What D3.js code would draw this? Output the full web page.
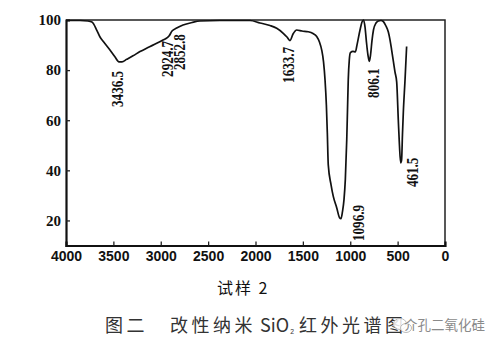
<!DOCTYPE html>
<html><head><meta charset="utf-8">
<script src="https://cdn.jsdelivr.net/npm/d3@7"></script>
<style>body{margin:0;background:#fff}svg{display:block}</style>
</head><body>
<svg id="c" width="499" height="350"></svg>
<script>
// ---- data ----
const wavenumbers = [4000,3852,3768,3726,3676,3641,3606,3536,3484,3441,3409,3360,3293,3219,3135,3043,2976,2937,2913,2881,2832,2765,2670,2586,2375,2058,1953,1847,1776,1707,1668,1636,1604,1565,1509,1443,1393,1354,1325,1301,1282,1266,1252,1242,1232,1203,1179,1143,1113,1098,1082,1066,1052,1037,1029,1021,1010,998,971,945,929,897,876,860,844,829,813,799,786,770,755,728,704,676,651,623,598,580,563,544,528,510,493,481,468,458,449,440,422,405];
const transmittance = [99.8,99.8,99.6,99.2,96,93.2,91.4,88,85.3,83.3,83.3,84.3,85.7,87.4,89,90.7,92,92.8,93.6,95.6,96.8,98,99,99.6,99.8,99.8,98.8,97.8,96.7,94.7,93.2,91.8,94.4,96,95.6,95.3,94.6,93.4,91.2,88,83.3,76,66.1,55,42.2,34.3,29.6,25.1,21.1,20.7,23.5,28.3,36.3,52.2,64.1,76.1,84.1,87,87.5,87.3,90,96,99.2,100,97.2,91.2,86,83.5,86,92,96,98.8,99.6,99.8,99.4,97.6,95.2,92,88,83.3,79.3,75.3,60.2,50.2,43,44.2,54.2,63,76,89.4];
const xTickValues = [4000,3500,3000,2500,2000,1500,1000,500,0];
const yTickValues = [20,40,60,80,100];
const peakLabels = ["3436.5","2924.7","2852.8","1633.7","1096.9","806.1","461.5"];
const xTitle = "试样 2";
const captionParts = ["图二","改性纳米","SiO","₂","红外光谱图"];
const watermark = "介孔二氧化硅";

// ---- layout (separate from data) ----
const labelLayout = { // px offset from peak x, bottom end in transmittance units
  "3436.5": {dx:-1.5, v:65.3},
  "2924.7": {dx:0, v:77.3},
  "2852.8": {dx:5.3, v:80},
  "1633.7": {dx:-2, v:74.9},
  "1096.9": {dx:18, v:11.8},
  "806.1": {dx:5.4, v:68.9},
  "461.5": {dx:11.7, v:33.3}
};

const svg = d3.select("#c");
const x = d3.scaleLinear().domain([4000,0]).range([66,445]);
const y = d3.scaleLinear().domain([10,100]).range([245.5,20]);

// frame top & right
svg.append("path")
  .attr("d", `M${x(4000)},${y(100)}H${x(0)}V${y(10)}`)
  .attr("fill","none").attr("stroke","#222").attr("stroke-width",1.5);

// x axis
const gx = svg.append("g").attr("transform",`translate(0,${y(10)})`)
  .call(d3.axisBottom(x).tickValues(xTickValues).tickSize(-4).tickPadding(6).tickFormat(d3.format("d")));
gx.select(".domain").attr("stroke","#111").attr("stroke-width",2.2);
gx.selectAll(".tick line").attr("stroke","#222").attr("stroke-width",1.3)
  .filter(d => d===4000 || d===0).remove();
gx.selectAll(".tick text").attr("font-family","'Liberation Sans', Arial, sans-serif")
  .attr("font-weight","bold").attr("font-size",14).attr("fill","#111");

// y axis
const gy = svg.append("g").attr("transform",`translate(${x(4000)},0)`)
  .call(d3.axisLeft(y).tickValues(yTickValues).tickSize(-4).tickPadding(5));
gy.select(".domain").attr("stroke","#111").attr("stroke-width",2.2);
gy.selectAll(".tick line").attr("stroke","#222").attr("stroke-width",1.3)
  .filter(d => d===100).remove();
gy.selectAll(".tick text").attr("font-family","'Liberation Serif', 'Times New Roman', serif")
  .attr("font-weight","bold").attr("font-size",15).attr("fill","#111");

// spectrum
const pts = wavenumbers.map((w,i)=>[w,transmittance[i]]);
svg.append("path").datum(pts)
  .attr("d", d3.line().x(d=>x(d[0])).y(d=>y(d[1])).curve(d3.curveMonotoneX))
  .attr("fill","none").attr("stroke","#111").attr("stroke-width",1.7).attr("stroke-linejoin","round");

// peak labels (rotated)
peakLabels.forEach(lbl => {
  const L = labelLayout[lbl];
  const cx = x(+lbl) + L.dx;
  const by = y(L.v);
  const digits = lbl.replace(".","").length;
  svg.append("text")
    .attr("transform",`translate(${cx+5.3},${by}) rotate(-90)`)
    .attr("font-family","'Liberation Serif', 'Times New Roman', serif")
    .attr("font-weight","bold").attr("font-size",16).attr("fill","#111")
    .attr("textLength", digits*6.5+3.5).attr("lengthAdjust","spacingAndGlyphs")
    .text(lbl);
});

// x title
svg.append("text").attr("x",217).attr("y",294)
  .attr("font-family","'Noto Sans CJK SC', sans-serif").attr("font-size",16)
  .attr("letter-spacing",2).attr("fill","#111").text(xTitle);

// caption
const cap = svg.append("g").attr("font-family","'Noto Sans CJK SC', sans-serif")
  .attr("font-size",18).attr("fill","#333");
cap.append("text").attr("x",105).attr("y",332).attr("letter-spacing",3.5).text(captionParts[0]);
cap.append("text").attr("x",170).attr("y",332).attr("letter-spacing",3.5).text(captionParts[1]);
cap.append("text").attr("x",260).attr("y",332).text(captionParts[2]);
cap.append("text").attr("x",290).attr("y",333).attr("font-size",11).text(captionParts[3]);
cap.append("text").attr("x",299).attr("y",332).attr("letter-spacing",3.5).text(captionParts[4]);

// watermark
const wm = svg.append("g");
wm.append("ellipse").attr("cx",400).attr("cy",324).attr("rx",6.5).attr("ry",5.5)
  .attr("fill","rgba(255,255,255,0.85)").attr("stroke","#bbb").attr("stroke-width",1);
wm.append("ellipse").attr("cx",406).attr("cy",328).attr("rx",5.5).attr("ry",4.5)
  .attr("fill","rgba(255,255,255,0.85)").attr("stroke","#bbb").attr("stroke-width",1);
wm.append("text").attr("x",404).attr("y",330)
  .attr("font-family","'Noto Sans CJK SC', sans-serif").attr("font-size",13.5)
  .attr("fill","#8a8a8a").attr("stroke","#fff").attr("stroke-width",0.4).attr("paint-order","stroke")
  .text(watermark);
</script>
</body></html>
